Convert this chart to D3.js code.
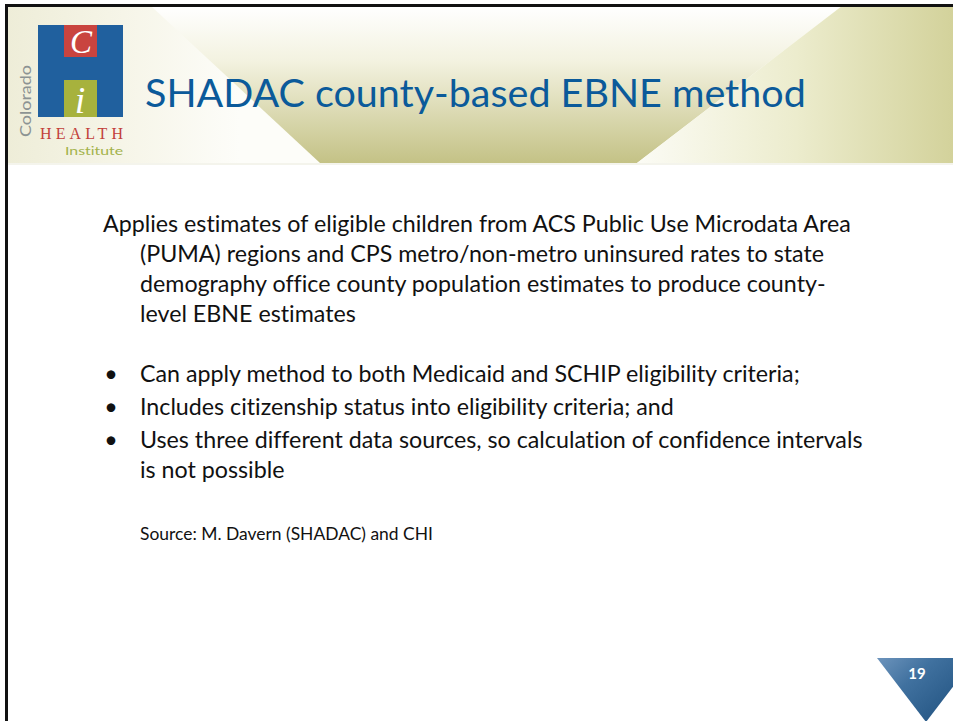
<!DOCTYPE html>
<html>
<head>
<meta charset="utf-8">
<script src="https://cdn.jsdelivr.net/npm/d3@7"></script>
<style>
  body { margin: 0; background: #fff; }
  svg { display: block; }
  text { font-variant-ligatures: none; }
</style>
</head>
<body>
<svg id="slide" width="953" height="721"></svg>
<script>
// slide content
var titleText = "SHADAC county-based EBNE method";
var introLines = [
  "Applies estimates of eligible children from ACS Public Use Microdata Area",
  "(PUMA) regions and CPS metro/non-metro uninsured rates to state",
  "demography office county population estimates to produce county-",
  "level EBNE estimates"
];
var bulletItems = [
  ["Can apply method to both Medicaid and SCHIP eligibility criteria;"],
  ["Includes citizenship status into eligibility criteria; and"],
  ["Uses three different data sources, so calculation of confidence intervals", "is not possible"]
];
var sourceText = "Source: M. Davern (SHADAC) and CHI";
var pageNumber = "19";
var logoWords = ["Colorado", "HEALTH", "Institute"];

var svg = d3.select("#slide"),
  W = +svg.attr("width"),
  H = +svg.attr("height");
var defs = svg.append("defs");
var font = "Lato, 'Gill Sans', 'Open Sans', sans-serif";

function grad(id, x1, y1, x2, y2, stops) {
  var g = defs.append("linearGradient").attr("id", id)
    .attr("gradientUnits", "userSpaceOnUse")
    .attr("x1", x1).attr("y1", y1).attr("x2", x2).attr("y2", y2);
  g.selectAll("stop").data(stops).enter().append("stop")
    .attr("offset", function(d) { return d[0]; })
    .attr("stop-color", function(d) { return d[1]; });
}
grad("leftGrad", 7, 0, 240, 0, [[0, "#eeedd8"], [0.5, "#f6f5e8"], [1, "#fdfdf9"]]);
grad("midGrad", 0, 6, 0, 163, [[0, "#ffffff"], [0.35, "#f3f2e0"], [1, "#c4c286"]]);
grad("rightGrad", 640, 0, 953, 0, [[0, "#fbfbf4"], [0.5, "#ececcd"], [1, "#d3d29b"]]);
grad("triGrad", 877, 658, 935, 722, [[0, "#6d94bc"], [0.45, "#40719f"], [1, "#275886"]]);

// header band
var header = svg.append("g");
header.append("rect").attr("x", 7).attr("y", 6).attr("width", W - 7).attr("height", 157)
  .attr("fill", "url(#leftGrad)");
header.append("polygon").attr("points", "151,6 842,6 637,163 320,163").attr("fill", "url(#midGrad)");
header.append("polygon").attr("points", "842,6 953,6 953,163 637,163").attr("fill", "url(#rightGrad)");
header.append("rect").attr("x", 7).attr("y", 163).attr("width", W - 7).attr("height", 2)
  .attr("fill", "#f4f4ec");

// logo
var serif = "'Liberation Serif', 'DejaVu Serif', serif";
var logo = svg.append("g");
logo.append("rect").attr("x", 38).attr("y", 25).attr("width", 85).attr("height", 92).attr("fill", "#20609e");
logo.append("rect").attr("x", 64).attr("y", 25).attr("width", 33).attr("height", 32).attr("fill", "#c9443f");
logo.append("rect").attr("x", 64).attr("y", 80).attr("width", 33).attr("height", 37).attr("fill", "#a7b23d");
logo.append("text").attr("x", 81).attr("y", 53).attr("text-anchor", "middle")
  .style("font-family", serif).style("font-style", "italic")
  .style("font-size", "33px").attr("fill", "#fff").text("C");
logo.append("text").attr("x", 80).attr("y", 113).attr("text-anchor", "middle")
  .style("font-family", serif).style("font-style", "italic")
  .style("font-size", "38px").attr("fill", "#fff").text("i");
logo.append("text").attr("transform", "translate(31,101) rotate(-90)").attr("text-anchor", "middle")
  .attr("textLength", 72).attr("lengthAdjust", "spacingAndGlyphs")
  .style("font-family", font).style("font-size", "15px").attr("fill", "#8c9393").text(logoWords[0]);
logo.append("text").attr("x", 40).attr("y", 139).attr("textLength", 83).attr("lengthAdjust", "spacing")
  .style("font-family", serif).style("font-size", "16px")
  .attr("fill", "#c2403a").text(logoWords[1]);
logo.append("text").attr("x", 123).attr("y", 155).attr("text-anchor", "end")
  .attr("textLength", 58).attr("lengthAdjust", "spacingAndGlyphs")
  .style("font-family", font).style("font-size", "12px").attr("fill", "#a3b24a").text(logoWords[2]);

// title, sized to span its width in the reference
var title = svg.append("text").attr("x", 145).attr("y", 107)
  .style("font-family", font).style("font-size", "36px").attr("fill", "#0b5a9a").text(titleText);
title.style("font-size", (36 * 661 / title.node().getComputedTextLength()) + "px");

// body lines
var lines = [];
introLines.forEach(function(t, i) {
  lines.push({ text: t, x: i === 0 ? 103 : 140, y: 232 + i * 30, bullet: false });
});
var y = 382;
bulletItems.forEach(function(item) {
  item.forEach(function(t, j) {
    lines.push({ text: t, x: 140, y: y + j * 30, bullet: j === 0 });
  });
  y += 33 + (item.length - 1) * 30;
});

var body = svg.append("g").style("font-family", font).attr("fill", "#111");
var bodyText = body.selectAll("text.line").data(lines).enter().append("text")
  .attr("class", "line")
  .attr("x", function(d) { return d.x; })
  .attr("y", function(d) { return d.y; })
  .style("font-size", "22px")
  .text(function(d) { return d.text; });
var fs = 22 * 748 / bodyText.node().getComputedTextLength();
bodyText.style("font-size", fs + "px");

body.selectAll("text.dot").data(lines.filter(function(d) { return d.bullet; })).enter().append("text")
  .attr("class", "dot").attr("x", 111).attr("y", function(d) { return d.y; })
  .attr("text-anchor", "middle").style("font-size", fs + "px").text("\u2022");

var src = body.append("text").attr("x", 140).attr("y", 540).style("font-size", "13px").text(sourceText);
src.style("font-size", (13 * 293 / src.node().getComputedTextLength()) + "px");

// page number triangle
svg.append("polygon").attr("points", "877,658 975,658 926,722").attr("fill", "url(#triGrad)");
svg.append("text").attr("x", 917).attr("y", 679).attr("text-anchor", "middle")
  .style("font-family", font).style("font-weight", "700").style("font-size", "15px")
  .attr("fill", "#fff").text(pageNumber);

// slide frame
svg.append("rect").attr("x", 5).attr("y", 4).attr("width", W - 5).attr("height", 3).attr("fill", "#111");
svg.append("rect").attr("x", 5).attr("y", 4).attr("width", 3).attr("height", H - 4).attr("fill", "#111");
</script>
</body>
</html>
